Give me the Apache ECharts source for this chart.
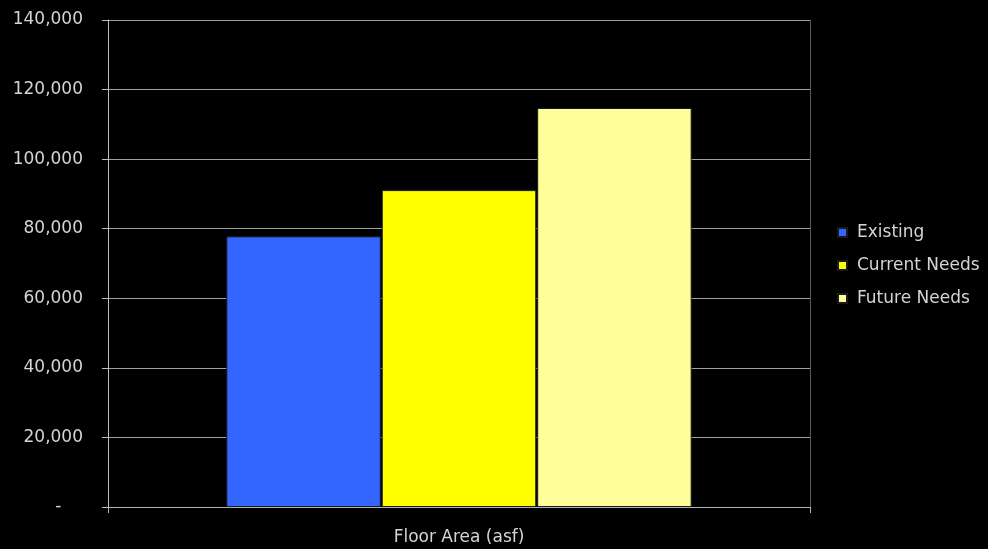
<!DOCTYPE html>
<html><head><meta charset="utf-8">
<script src="https://cdn.jsdelivr.net/npm/echarts@6/dist/echarts.min.js"></script>
<style>html,body{margin:0;padding:0;background:#000}#c{width:988px;height:549px}</style>
</head><body><div id="c"></div>
<script>
const categories = ['Floor Area (asf)'];
const seriesNames = ['Existing', 'Current Needs', 'Future Needs'];
const existing = [77800];
const currentNeeds = [91100];
const futureNeeds = [114700];
const yTicks = { min: 0, max: 140000, interval: 20000 };

const colors = ['#3366ff', '#ffff00', '#ffff99'];
const dataSets = [existing, currentNeeds, futureNeeds];
const font = 'DejaVu Sans, Liberation Sans, sans-serif';

const chart = echarts.init(document.getElementById('c'));
chart.setOption({
  backgroundColor: '#000',
  animation: false,
  grid: { left: 108, top: 20, right: 178, bottom: 42, containLabel: false },
  legend: {
    orient: 'vertical', left: 832, top: 219,
    itemWidth: 9, itemHeight: 9, itemGap: 16, icon: 'rect',
    textStyle: { color: '#d4d4d4', fontSize: 17, fontFamily: font, padding: [0,0,0,5] },
    data: seriesNames
  },
  xAxis: {
    type: 'category', data: categories,
    axisLine: { lineStyle: { color: '#b0b0b0', width: 1 } },
    axisTick: { show: true, length: 6, lineStyle: { color: '#b0b0b0' } },
    axisLabel: { color: '#d4d4d4', fontSize: 17, fontFamily: font, margin: 22 },
    splitLine: { show: false }
  },
  yAxis: {
    type: 'value', min: yTicks.min, max: yTicks.max, interval: yTicks.interval,
    axisLine: { show: true, lineStyle: { color: '#c0c0c0', width: 1 } },
    axisTick: { show: true, length: 6, lineStyle: { color: '#c0c0c0' } },
    axisLabel: {
      color: '#d4d4d4', fontSize: 17, fontFamily: font, margin: 25,
      formatter: v => v === 0 ? '-    ' : v.toLocaleString('en-US')
    },
    splitLine: { show: true, lineStyle: { color: '#a0a0a0', width: 1 } }
  },
  series: seriesNames.map((n, i) => ({
    name: n, type: 'bar', data: dataSets[i],
    barWidth: 154.5, barGap: '0.6%',
    itemStyle: { color: colors[i], borderColor: '#1a1a1a', borderWidth: 1 }
  }))
});
const grid = chart.getModel().getComponent('grid').coordinateSystem.getRect();
chart.setOption({
  graphic: [{
    type: 'line', silent: true,
    shape: { x1: grid.x + grid.width + 0.5, y1: grid.y, x2: grid.x + grid.width + 0.5, y2: grid.y + grid.height + 6 },
    style: { stroke: '#5a5a5a', lineWidth: 1 }
  }]
});
</script></body></html>
